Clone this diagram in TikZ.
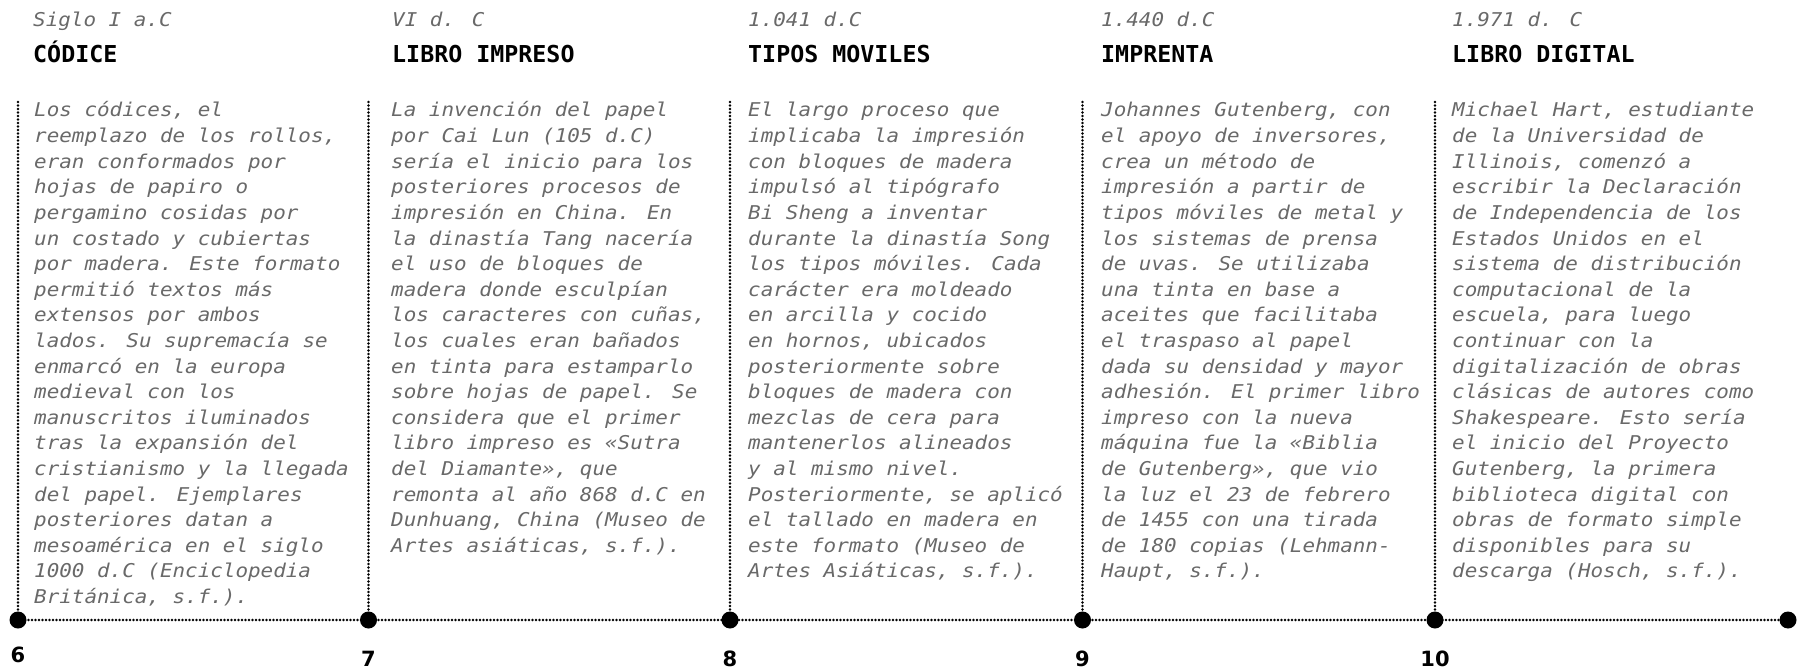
\documentclass[tikz,border=0pt]{standalone}
\usepackage{fontspec}
\newfontfamily\bodyfont[FakeStretch=1.1]{DejaVu Sans Mono}
\newfontfamily\titlefont{DejaVu Sans Mono}
\newfontfamily\numfont{DejaVu Sans}
\definecolor{bodygray}{RGB}{105,105,105}
\begin{document}
\begin{tikzpicture}[x=1pt,y=-1pt,
  body/.style={anchor=base west, inner sep=0pt, text=bodygray, font=\bodyfont\itshape\fontsize{19}{25.6}\selectfont},
  title/.style={anchor=base west, inner sep=0pt, font=\titlefont\bfseries\fontsize{23.3}{28}\selectfont},
  num/.style={anchor=base, inner sep=0pt, font=\numfont\bfseries\fontsize{21}{24}\selectfont},
  dotline/.style={line width=2.6pt, line cap=round, dash pattern=on 0pt off 3.5pt},
  bullet/.style={circle, fill=black, minimum size=17pt, inner sep=0pt}]
\useasboundingbox (0,0) rectangle (1797,669);
% timeline points
\coordinate (p1) at (18,620);
\coordinate (p2) at (368.5,620);
\coordinate (p3) at (730,620);
\coordinate (p4) at (1082.5,620);
\coordinate (p5) at (1435,620);
\coordinate (p6) at (1788,620);
\coordinate (t1) at (18,102);
\coordinate (t2) at (368.5,102);
\coordinate (t3) at (730,102);
\coordinate (t4) at (1082.5,102);
\coordinate (t5) at (1435,102);
\draw[dotline] (p1) -- (p6);
\foreach \k in {1,...,5} \draw[dotline] (t\k) -- (p\k);
\foreach \k in {1,...,6} \node[bullet] (d\k) at (p\k) {};
% numbers
\node[num] (n6) at (18,662) {6};
\node[num] (n7) at (368.5,666) {7};
\node[num] (n8) at (730,666) {8};
\node[num] (n9) at (1082.5,666) {9};
\node[num] (n10) at (1435,666) {10};
% dates and titles
\node[body] (y1) at (33,27) {Siglo I a.C};
\node[title] (h1) at (33,63) {CÓDICE};
\node[body] (y2) at (392,27) {VI d. C};
\node[title] (h2) at (392,63) {LIBRO IMPRESO};
\node[body] (y3) at (748,27) {1.041 d.C};
\node[title] (h3) at (748,63) {TIPOS MOVILES};
\node[body] (y4) at (1101,27) {1.440 d.C};
\node[title] (h4) at (1101,63) {IMPRENTA};
\node[body] (y5) at (1452,27) {1.971 d. C};
\node[title] (h5) at (1452,63) {LIBRO DIGITAL};
% column 1
\foreach \l [count=\i from 0] in {{Los códices, el},{reemplazo de los rollos,},{eran conformados por},{hojas de papiro o},{pergamino cosidas por},{un costado y cubiertas},{por madera. Este formato},{permitió textos más},{extensos por ambos},{lados. Su supremacía se},{enmarcó en la europa},{medieval con los},{manuscritos iluminados},{tras la expansión del},{cristianismo y la llegada},{del papel. Ejemplares},{posteriores datan a},{mesoamérica en el siglo},{1000 d.C (Enciclopedia},{Británica, s.f.).}}
  \node[body] (a\i) at (34,{117+25.6*\i}) {\l};
% column 2
\foreach \l [count=\i from 0] in {{La invención del papel},{por Cai Lun (105 d.C)},{sería el inicio para los},{posteriores procesos de},{impresión en China. En},{la dinastía Tang nacería},{el uso de bloques de},{madera donde esculpían},{los caracteres con cuñas,},{los cuales eran bañados},{en tinta para estamparlo},{sobre hojas de papel. Se},{considera que el primer},{libro impreso es «Sutra},{del Diamante», que},{remonta al año 868 d.C en},{Dunhuang, China (Museo de},{Artes asiáticas, s.f.).}}
  \node[body] (b\i) at (391,{117+25.6*\i}) {\l};
% column 3
\foreach \l [count=\i from 0] in {{El largo proceso que},{implicaba la impresión},{con bloques de madera},{impulsó al tipógrafo},{Bi Sheng a inventar},{durante la dinastía Song},{los tipos móviles. Cada},{carácter era moldeado},{en arcilla y cocido},{en hornos, ubicados},{posteriormente sobre},{bloques de madera con},{mezclas de cera para},{mantenerlos alineados},{y al mismo nivel.},{Posteriormente, se aplicó},{el tallado en madera en},{este formato (Museo de},{Artes Asiáticas, s.f.).}}
  \node[body] (c\i) at (748,{117+25.6*\i}) {\l};
% column 4
\foreach \l [count=\i from 0] in {{Johannes Gutenberg, con},{el apoyo de inversores,},{crea un método de},{impresión a partir de},{tipos móviles de metal y},{los sistemas de prensa},{de uvas. Se utilizaba},{una tinta en base a},{aceites que facilitaba},{el traspaso al papel},{dada su densidad y mayor},{adhesión. El primer libro},{impreso con la nueva},{máquina fue la «Biblia},{de Gutenberg», que vio},{la luz el 23 de febrero},{de 1455 con una tirada},{de 180 copias (Lehmann-},{Haupt, s.f.).}}
  \node[body] (e\i) at (1101,{117+25.6*\i}) {\l};
% column 5
\foreach \l [count=\i from 0] in {{Michael Hart, estudiante},{de la Universidad de},{Illinois, comenzó a},{escribir la Declaración},{de Independencia de los},{Estados Unidos en el},{sistema de distribución},{computacional de la},{escuela, para luego},{continuar con la},{digitalización de obras},{clásicas de autores como},{Shakespeare. Esto sería},{el inicio del Proyecto},{Gutenberg, la primera},{biblioteca digital con},{obras de formato simple},{disponibles para su},{descarga (Hosch, s.f.).}}
  \node[body] (f\i) at (1452,{117+25.6*\i}) {\l};
\end{tikzpicture}
\end{document}
